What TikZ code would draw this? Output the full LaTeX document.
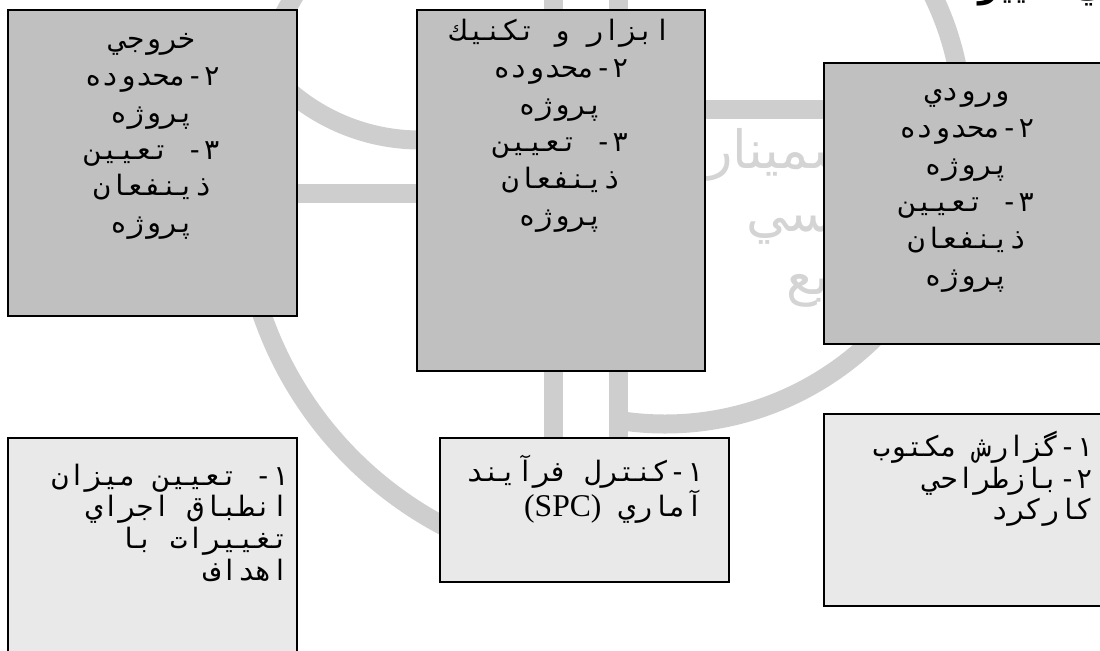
\documentclass[tikz,border=0pt]{standalone}
\usepackage{fontspec}
\usetikzlibrary{positioning}
\TeXXeTstate=1
\newfontfamily\farsi[Script=Arabic]{DejaVu Sans Mono}
\newfontfamily\farsihead[Script=Arabic]{DejaVu Sans}
\newfontfamily\romanfont{Liberation Serif}
\newcommand\rl[1]{\beginR#1\endR}
\newlength\pxl
\setlength\pxl{0.02cm}
\definecolor{boxdark}{RGB}{192,192,192}
\definecolor{boxlight}{RGB}{233,233,233}
\definecolor{logogray}{RGB}{206,206,206}
\definecolor{logotext}{RGB}{212,212,212}
\tikzset{
  panel/.style={draw=black, line width=0.9pt, inner sep=0pt},
  darkpanel/.style={panel, fill=boxdark},
  lightpanel/.style={panel, fill=boxlight},
  toplines/.style={font=\farsi\fontsize{16}{21}\selectfont, align=center, inner sep=0pt},
  lowlines/.style={font=\farsi\fontsize{16}{18}\selectfont, align=right, inner sep=0pt},
  band/.style={draw=logogray, line width=19*\pxl},
}
\begin{document}
\begin{tikzpicture}[x=0.02cm, y=-0.02cm]
  \useasboundingbox (0,0) rectangle (1100,650);
  \clip (0,0) rectangle (1100,650);
  % faded emblem behind the boxes
  \draw[band] (621,190) ++(215:380) arc[start angle=215, end angle=95, radius=380];
  \draw[band] (665,126) ++(-35:298) arc[start angle=-35, end angle=100, radius=298];
  \draw[band] (420,-60) ++(140:200) arc[start angle=140, end angle=80, radius=200];
  \draw[band] (290,193) -- (425,193);
  \draw[band] (700,109) -- (830,109);
  \draw[band] (553,-5) -- (553,445);
  \draw[band] (618,-5) -- (618,445);
  \node[font=\farsihead\fontsize{30}{36}\selectfont, text=logotext, align=left,
        inner sep=0pt, anchor=north west] (emblem) at (707,128)
        {\rl{سمينار}\\\hspace*{22pt}\rl{مهندسي}\\\hspace*{45pt}\rl{صنايع}};
  \node[font=\farsihead\bfseries\fontsize{20}{24}\selectfont, inner sep=0pt,
        anchor=base west] (heading) at (978,-3) {\rl{اندازه‌گيري تغيير}};

  % upper row
  \node[darkpanel, minimum width=289*\pxl, minimum height=306*\pxl] (output) at (152.5,163) {};
  \node[toplines, below=13.5pt of output.north] (outputtext)
        {\rl{خروجي}\\\rl{٢-محدوده}\\\rl{پروژه}\\\rl{٣- تعيين}\\\rl{ذينفعان}\\\rl{پروژه}};
  \node[darkpanel, minimum width=288*\pxl, minimum height=361*\pxl] (tools) at (561,190.5) {};
  \node[toplines, below=5.5pt of tools.north] (toolstext)
        {\rl{ابزار و تكنيك}\\\rl{٢-محدوده}\\\rl{پروژه}\\\rl{٣- تعيين}\\\rl{ذينفعان}\\\rl{پروژه}};
  \node[darkpanel, minimum width=286*\pxl, minimum height=281*\pxl] (input) at (967,203.5) {};
  \node[toplines, below=15pt of input.north] (inputtext)
        {\rl{ورودي}\\\rl{٢-محدوده}\\\rl{پروژه}\\\rl{٣- تعيين}\\\rl{ذينفعان}\\\rl{پروژه}};

  % lower row
  \node[lightpanel, minimum width=289*\pxl, minimum height=232*\pxl] (measure) at (152.5,554) {};
  \node[lowlines, below left=15pt and 5pt of measure.north east] (measuretext)
        {\rl{١- تعيين ميزان}\\\rl{انطباق اجراي}\\\rl{تغييرات با}\\\rl{اهداف}};
  \node[lightpanel, minimum width=289*\pxl, minimum height=144*\pxl] (spc) at (584.5,510) {};
  \node[lowlines, font=\farsi\fontsize{16}{20}\selectfont,
        below left=10pt and 15pt of spc.north east] (spctext)
        {\rl{١-كنترل فرآيند}\\\rl{آماري \beginL{\romanfont\fontsize{18}{20}\selectfont(SPC)}\endL}};
  \node[lightpanel, minimum width=286*\pxl, minimum height=192*\pxl] (report) at (967,510) {};
  \node[lowlines, below left=10pt and 10pt of report.north east] (reporttext)
        {\rl{١-گزارش مكتوب}\\\rl{٢-بازطراحي}\\\rl{كاركرد}};
\end{tikzpicture}
\end{document}
